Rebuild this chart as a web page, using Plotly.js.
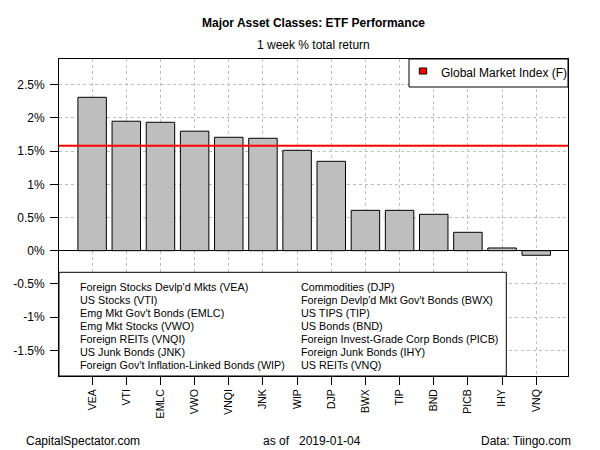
<!DOCTYPE html>
<html>
<head>
<meta charset="utf-8">
<script src="https://cdn.plot.ly/plotly-3.0.1.min.js"></script>
<style>html,body{margin:0;padding:0;background:#fff;}#chart{width:600px;height:450px;}</style>
</head>
<body>
<div id="chart"></div>
<script>
// ---- data ----
const tickers = ['VEA','VTI','EMLC','VWO','VNQI','JNK','WIP','DJP','BWX','TIP','BND','PICB','IHY','VNQ'];
const returns = [2.31, 1.95, 1.934, 1.80, 1.708, 1.693, 1.512, 1.346, 0.608, 0.608, 0.548, 0.277, 0.041, -0.069];
const names = [
  "Foreign Stocks Devlp'd Mkts (VEA)",
  "US Stocks (VTI)",
  "Emg Mkt Gov't Bonds (EMLC)",
  "Emg Mkt Stocks (VWO)",
  "Foreign REITs (VNQI)",
  "US Junk Bonds (JNK)",
  "Foreign Gov't Inflation-Linked Bonds (WIP)",
  "Commodities (DJP)",
  "Foreign Devlp'd Mkt Gov't Bonds (BWX)",
  "US TIPS (TIP)",
  "US Bonds (BND)",
  "Foreign Invest-Grade Corp Bonds (PICB)",
  "Foreign Junk Bonds (IHY)",
  "US REITs (VNQ)"
];
const gmiValue = 1.581;
const gmiLabel = 'Global Market Index (F)';
const yTickVals = [-1.5, -1, -0.5, 0, 0.5, 1, 1.5, 2, 2.5];
const yTickText = ['-1.5%', '-1%', '-0.5%', '0%', '0.5%', '1%', '1.5%', '2%', '2.5%'];
const titleText = 'Major Asset Classes: ETF Performance';
const subtitleText = '1 week % total return';
const leftNote = 'CapitalSpectator.com';
const asOfDate = '2019-01-04';
const rightNote = 'Data: Tiingo.com';

// ---- layout helpers (pixel -> paper) ----
const W = 600, H = 450;
const M = {l: 59, r: 32, t: 59, b: 74};
const PW = W - M.l - M.r, PH = H - M.t - M.b;
const px = x => (x - M.l) / PW;
const py = y => (H - M.b - y) / PH;
const FONT = '"Liberation Sans", Arial, sans-serif';

const shapes = [
  // global market index line
  {type: 'line', xref: 'paper', yref: 'y', x0: 0, x1: 1, y0: gmiValue, y1: gmiValue,
   line: {color: '#FF0000', width: 2}, layer: 'above'},
  // bottom-left legend box
  {type: 'rect', xref: 'paper', yref: 'paper', x0: px(59), x1: px(506.3), y0: py(376), y1: py(272.3),
   fillcolor: '#FFFFFF', line: {color: '#000000', width: 1}, layer: 'above'},
  // top-right legend box
  {type: 'rect', xref: 'paper', yref: 'paper', x0: px(409), x1: px(568), y0: py(87), y1: py(59),
   fillcolor: '#FFFFFF', line: {color: '#000000', width: 1}, layer: 'above'},
  // legend key (red square)
  {type: 'rect', xref: 'paper', yref: 'paper', x0: px(419.3), x1: px(426.7), y0: py(74), y1: py(68),
   fillcolor: '#FF0000', line: {color: '#000000', width: 1}, layer: 'above'}
];

const annotations = [];
const half = Math.ceil(names.length / 2);
names.forEach((n, i) => {
  const col = i < half ? 0 : 1;
  const row = i % half;
  annotations.push({
    xref: 'paper', yref: 'paper', x: px(col === 0 ? 78.3 : 299.3), y: py(286.7 + row * 13.1),
    xanchor: 'left', yanchor: 'middle', showarrow: false, text: n,
    font: {family: FONT, size: 10.8, color: '#000'}
  });
});
annotations.push({xref: 'paper', yref: 'paper', x: px(439.3), y: py(73), xanchor: 'left', yanchor: 'middle',
  showarrow: false, text: gmiLabel, font: {family: FONT, size: 12, color: '#000'}});
annotations.push({xref: 'paper', yref: 'paper', x: 0.5, y: py(45), xanchor: 'center', yanchor: 'middle',
  showarrow: false, text: subtitleText, font: {family: FONT, size: 12, color: '#000'}});
annotations.push({xref: 'paper', yref: 'paper', x: px(24), y: py(441), xanchor: 'left', yanchor: 'middle',
  showarrow: false, text: leftNote, font: {family: FONT, size: 12, color: '#000'}});
annotations.push({xref: 'paper', yref: 'paper', x: px(312), y: py(441), xanchor: 'center', yanchor: 'middle',
  showarrow: false, text: 'as of\u00A0\u00A0\u00A0' + asOfDate, font: {family: FONT, size: 12, color: '#000'}});
annotations.push({xref: 'paper', yref: 'paper', x: px(573), y: py(441), xanchor: 'right', yanchor: 'middle',
  showarrow: false, text: rightNote, font: {family: FONT, size: 12, color: '#000'}});

const trace = {
  type: 'bar', x: tickers, y: returns,
  marker: {color: '#BEBEBE', line: {color: '#000000', width: 1}},
  hoverinfo: 'x+y', showlegend: false
};

const layout = {
  width: W, height: H,
  margin: M,
  paper_bgcolor: '#FFFFFF', plot_bgcolor: '#FFFFFF',
  font: {family: FONT, size: 12, color: '#000'},
  title: {text: '<b>' + titleText + '</b>', x: 0.5, xref: 'paper', y: 1 - 23 / H, yref: 'container',
          xanchor: 'center', yanchor: 'middle', font: {family: FONT, size: 12, color: '#000'}},
  bargap: 1 / 6,
  showlegend: false,
  xaxis: {
    type: 'category', range: [-0.97, 13.93],
    showline: true, mirror: true, linecolor: '#000', linewidth: 1,
    ticks: 'outside', ticklen: 8, tickcolor: '#000', tickwidth: 1,
    tickangle: -90, tickfont: {family: FONT, size: 10.5, color: '#000'},
    showgrid: true, gridcolor: '#BEBEBE', griddash: 'dot', gridwidth: 1,
    zeroline: false, fixedrange: true
  },
  yaxis: {
    range: [-1.887, 2.887],
    tickvals: yTickVals, ticktext: yTickText,
    showline: true, mirror: true, linecolor: '#000', linewidth: 1,
    ticks: 'outside', ticklen: 8, tickcolor: '#000', tickwidth: 1,
    ticklabelstandoff: 3,
    tickfont: {family: FONT, size: 12, color: '#000'},
    showgrid: true, gridcolor: '#BEBEBE', griddash: 'dot', gridwidth: 1,
    zeroline: true, zerolinecolor: '#000', zerolinewidth: 1, fixedrange: true
  },
  shapes: shapes,
  annotations: annotations
};

Plotly.newPlot('chart', [trace], layout, {displayModeBar: false, staticPlot: true});
</script>
</body>
</html>
